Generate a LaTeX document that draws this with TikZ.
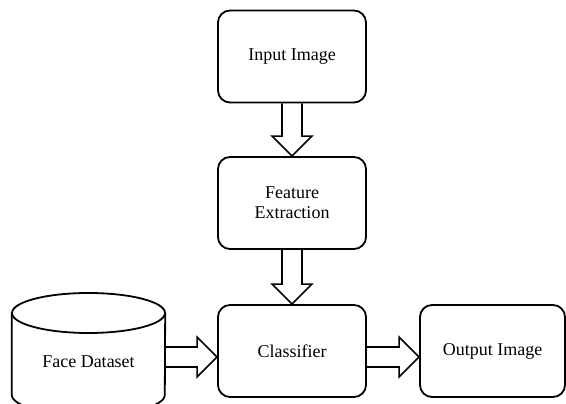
\documentclass[tikz,border=0pt]{standalone}
\usepackage{fontspec}
\newfontfamily\diagfont{Liberation Serif}
\usetikzlibrary{calc}

\begin{document}
\begin{tikzpicture}[x=1pt, y=1pt,
    stage/.style={draw=black, line width=1.8pt, rounded corners=12pt, minimum width=148pt, minimum height=92pt, align=center, inner sep=2pt, font=\diagfont\fontsize{18}{20}\selectfont},
    label/.style={inner sep=0pt, font=\diagfont\fontsize{18}{20}\selectfont},
    blockarrow/.style={draw=black, line width=1.6pt, line join=miter}]
  \clip (0,0) rectangle (566,404);
  \useasboundingbox (0,0) rectangle (566,404);

  % stages
  \node[stage] (inp) at (292,347.5) {Input Image};
  \node[stage] (feat) at (292,201) {Feature\\Extraction};
  \node[stage] (cls) at (292,53) {Classifier};
  \node[stage, minimum width=145pt] (out) at (492.5,53) {Output Image};

  % face dataset cylinder
  \node[label, minimum width=153pt] (data) at (88.5,42) {Face Dataset};
  \draw[line width=1.8pt] (data.west |- 0,91) -- (data.west |- 0,9) arc[start angle=180, end angle=360, x radius=76.5, y radius=20] -- (data.east |- 0,91);
  \draw[line width=1.8pt] (88.5,91) ellipse[x radius=76.5, y radius=20];

  % block arrows
  \draw[blockarrow] ($(inp.south)+(-10,0)$) -- ($(feat.north)+(-10,20)$) -- ($(feat.north)+(-20,20)$) -- (feat.north) -- ($(feat.north)+(20,20)$) -- ($(feat.north)+(10,20)$) -- ($(inp.south)+(10,0)$);
  \draw[blockarrow] ($(feat.south)+(-10,0)$) -- ($(cls.north)+(-10,20)$) -- ($(cls.north)+(-20,20)$) -- (cls.north) -- ($(cls.north)+(20,20)$) -- ($(cls.north)+(10,20)$) -- ($(feat.south)+(10,0)$);
  \draw[blockarrow] ($(data.east)+(0,15)$) -- ($(cls.west)+(-20,4)$) -- ($(cls.west)+(-20,14)$) -- ($(cls.west)+(0,-6)$) -- ($(cls.west)+(-20,-26)$) -- ($(cls.west)+(-20,-16)$) -- ($(data.east)+(0,-5)$);
  \draw[blockarrow] ($(cls.east)+(0,4)$) -- ($(out.west)+(-20,4)$) -- ($(out.west)+(-20,14)$) -- ($(out.west)+(0,-6)$) -- ($(out.west)+(-20,-26)$) -- ($(out.west)+(-20,-16)$) -- ($(cls.east)+(0,-16)$);
\end{tikzpicture}
\end{document}
